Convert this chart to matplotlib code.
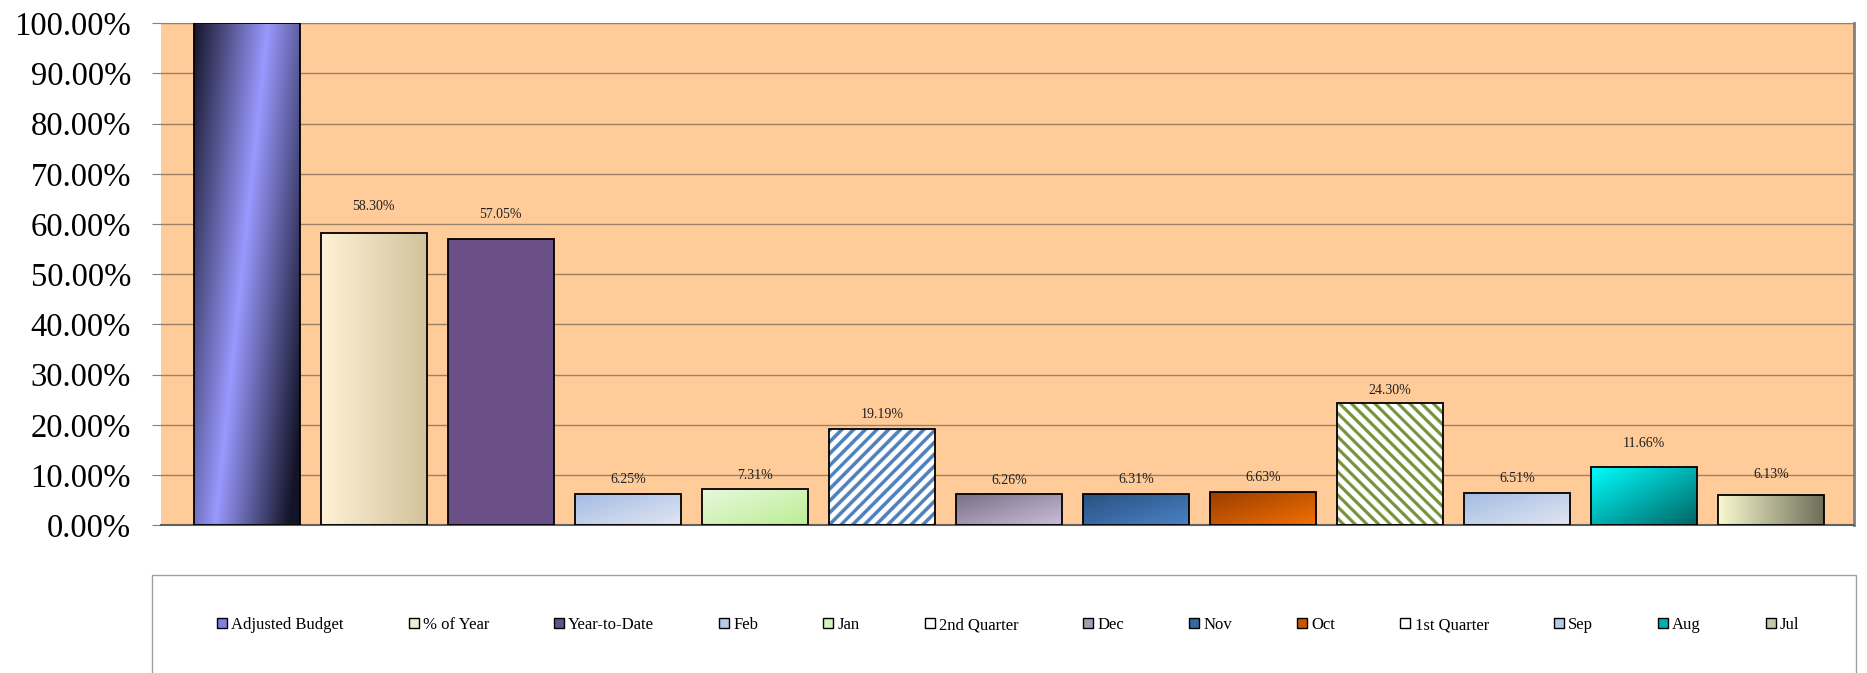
import numpy as np
import matplotlib
matplotlib.use('Agg')
import matplotlib.pyplot as plt
from matplotlib.patches import Patch, Rectangle
from matplotlib.colors import to_rgb

plt.rcParams['font.family'] = ['Liberation Serif', 'DejaVu Serif']

categories = ['Adjusted Budget', '% of Year', 'Year-to-Date', 'Feb', 'Jan', '2nd Quarter',
              'Dec', 'Nov', 'Oct', '1st Quarter', 'Sep', 'Aug', 'Jul']
values = [100.00, 58.30, 57.05, 6.25, 7.31, 19.19, 6.26, 6.31, 6.63, 24.30, 6.51, 11.66, 6.13]
yticks = [0, 10, 20, 30, 40, 50, 60, 70, 80, 90, 100]

# fill style per bar: (kind, colour a, colour b)
fills = [
    ('band', '#9999FF', '#141428'),
    ('h', '#FFF2D6', '#D2C39C'),
    ('solid', '#6A5087', None),
    ('d', '#A3BBE3', '#E1E6F2'),
    ('d', '#E8F8DE', '#BCEE94'),
    ('up', '#4F81BD', '#FFFFFF'),
    ('d', '#7A6E86', '#C9BDD9'),
    ('d', '#28507F', '#4A82C6'),
    ('d', '#9A3C00', '#F27000'),
    ('down', '#77933C', '#FFFFFF'),
    ('d', '#A3BBE3', '#E1E6F2'),
    ('d', '#00FFFF', '#006464'),
    ('h', '#FAFAD0', '#6E6E58'),
]
legend_colors = ['#7F7FE0', '#F2EAD4', '#6A5087', '#B8C8E8', '#D6F4BE', '#FFFFFF',
                 '#A89CB4', '#3868A4', '#C85600', '#FFFFFF', '#B8C8E8', '#00B0B0', '#C8C8A8']
# label distance above bar top (px)
label_off = [26, 25.7, 24.3, 14.3, 13, 14.3, 13.6, 14, 14, 12.7, 13.7, 23, 20]


def gradient(kind, c1, c2, nx, ny):
    u = np.linspace(0, 1, nx)[None, :]
    v = np.linspace(0, 1, ny)[:, None]
    if kind == 'h':
        t = u + 0 * v
    elif kind == 'd':
        t = (u + v) / 2
    elif kind in ('up', 'down'):
        # stripes, ~11.7 px period along the bar's top edge (supersampled 4x)
        c = np.arange(nx)[None, :]
        r = np.arange(ny)[:, None]
        s = (c + r) if kind == 'up' else (c - r)
        thick = 0.42 if kind == 'up' else 0.38
        t = ((s / (11.7 * 4)) % 1.0 >= thick).astype(float)
    else:
        t = np.clip(np.abs(u - (0.7 - 0.5 * v)) / 0.7, 0, 1)
    a, b = np.array(to_rgb(c1)), np.array(to_rgb(c2))
    return a * (1 - t[..., None]) + b * t[..., None]


fig = plt.figure(figsize=(18.67, 6.73), dpi=100)
ax = fig.add_axes([0.0862, 0.2195, 0.9068, 0.7459])
ax.set_facecolor('#FFCC99')
ax.set_xlim(-0.675, 12.65)
ax.set_ylim(0, 100)

x = np.arange(len(categories))
width = 0.834
for i, (val, (kind, c1, c2)) in enumerate(zip(values, fills)):
    b = ax.bar(x[i], val, width, facecolor=c1, linewidth=0, zorder=2)[0]
    if kind == 'solid':
        continue
    x0, x1 = x[i] - width / 2, x[i] + width / 2
    p0 = ax.transData.transform((x0, 0))
    p1 = ax.transData.transform((x1, val))
    nx = max(int(round((p1[0] - p0[0]) * 4)), 2)
    ny = max(int(round((p1[1] - p0[1]) * 4)), 2)
    im = ax.imshow(gradient(kind, c1, c2, nx, ny), extent=(x0, x1, 0, val),
                   aspect='auto', origin='upper', zorder=2.5, interpolation='antialiased')
    im.set_clip_path(b)
ax.bar(x, values, width, facecolor='none', edgecolor='black', linewidth=1.3, zorder=3)

for i, val in enumerate(values):
    if val >= 100:
        continue
    ax.annotate('{:.2f}%'.format(val), (x[i], val), xytext=(0, label_off[i] * 0.72),
                textcoords='offset points', ha='center', va='center', fontsize=10,
                color='#202020', zorder=4)

ax.set_xlim(-0.675, 12.65)
ax.set_ylim(0, 100)
ax.set_yticks(yticks)
ax.set_yticklabels(['{:.2f}%'.format(t) for t in yticks])
ax.set_xticks([])
ax.tick_params(axis='y', length=6.5, color='#808080', labelsize=23.5, pad=15)
ax.yaxis.grid(True, color='#9A8064', linewidth=1)
ax.set_axisbelow(True)
ax.spines['left'].set_visible(False)
ax.spines['top'].set_color('#9A8064')
ax.spines['right'].set_color('#808080')
ax.spines['right'].set_linewidth(2)
ax.spines['bottom'].set_color('#606060')
ax.spines['bottom'].set_linewidth(1.5)

handles = []
for (kind, c1, c2), lc in zip(fills, legend_colors):
    handles.append(Patch(facecolor=lc, edgecolor='black', linewidth=1))

fig.patches.append(Rectangle((0.0814, -0.1), 0.9127, 0.2456, transform=fig.transFigure,
                             fill=False, edgecolor='#A0A0A0', linewidth=1))
fig.legend(handles, categories, ncol=13, loc='center', bbox_to_anchor=(0.54, 0.0713),
           frameon=False, handlelength=0.6, handleheight=0.6, handletextpad=0.25,
           columnspacing=3.9, fontsize=12)

fig.savefig('out.png', dpi=100)
